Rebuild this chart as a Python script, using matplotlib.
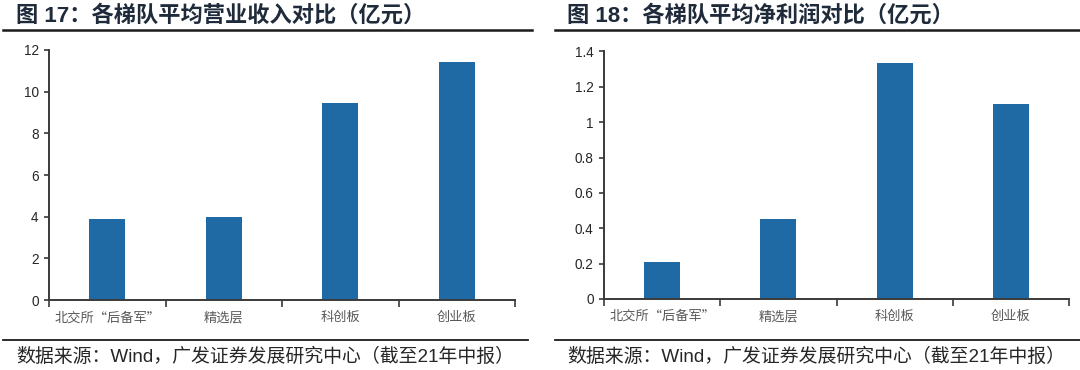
import matplotlib
matplotlib.use('Agg')
import matplotlib.pyplot as plt
from matplotlib.lines import Line2D

plt.rcParams['font.family'] = ['Liberation Sans', 'Noto Sans CJK SC', 'DejaVu Sans']

# 数据
categories = ['北交所“后备军”', '精选层', '科创板', '创业板']
revenue = [3.88, 3.97, 9.46, 11.41]
profit = [0.21, 0.453, 1.332, 1.10]

rev_ticks = [0, 2, 4, 6, 8, 10, 12]
rev_labels = ['0', '2', '4', '6', '8', '10', '12']
pro_ticks = [0, 0.2, 0.4, 0.6, 0.8, 1.0, 1.2, 1.4]
pro_labels = ['0', '0.2', '0.4', '0.6', '0.8', '1', '1.2', '1.4']

title_left = '图 17：各梯队平均营业收入对比（亿元）'
title_right = '图 18：各梯队平均净利润对比（亿元）'
source = '数据来源：Wind，广发证券发展研究中心（截至21年中报）'

bar_color = '#1f69a5'
axis_color = '#3a3a3a'
title_color = '#1f2b3a'

fig = plt.figure(figsize=(10.8, 3.7), dpi=100)


def draw_panel(rect, values, ticks, labels):
    ax = fig.add_axes(rect)
    x = list(range(len(categories)))
    ax.bar(x, values, width=0.31, color=bar_color)
    ax.set_xlim(-0.5, len(categories) - 0.5)
    ax.set_ylim(ticks[0], ticks[-1])
    ax.set_yticks(ticks)
    ax.set_yticklabels(labels, fontsize=9.8, color='#262626')
    ax.set_xticks(x)
    ax.set_xticklabels(categories, fontsize=9.5, color='#595959',
                       family=['Noto Sans CJK SC', 'DejaVu Sans'])
    ax.set_xticks([i - 0.5 for i in range(len(categories) + 1)], minor=True)
    ax.tick_params(axis='x', which='major', length=0, pad=8)
    ax.tick_params(axis='x', which='minor', length=5, width=1.2, color=axis_color)
    ax.tick_params(axis='y', length=3.5, width=1.2, color=axis_color, pad=4)
    for s in ['top', 'right']:
        ax.spines[s].set_visible(False)
    for s in ['left', 'bottom']:
        ax.spines[s].set_color(axis_color)
        ax.spines[s].set_linewidth(1.4)
    return ax


draw_panel([0.0454, 0.189, 0.4315, 0.676], revenue, rev_ticks, rev_labels)
draw_panel([0.5593, 0.192, 0.4306, 0.669], profit, pro_ticks, pro_labels)

# 标题
fig.text(16 / 1080, 1 - 16 / 370, title_left, fontsize=16, fontweight='bold',
         ha='left', va='center', color=title_color)
fig.text(567 / 1080, 1 - 16 / 370, title_right, fontsize=16, fontweight='bold',
         ha='left', va='center', color=title_color)

# 分隔线
fig.add_artist(Line2D([3 / 1080, 532 / 1080], [1 - 30 / 370, 1 - 30 / 370], color='#1a1a1a', lw=1.8))
fig.add_artist(Line2D([555 / 1080, 1.0], [1 - 30 / 370, 1 - 30 / 370], color='#1a1a1a', lw=1.8))
fig.add_artist(Line2D([3 / 1080, 528 / 1080], [1 - 340 / 370, 1 - 340 / 370], color='#1a1a1a', lw=1.3))
fig.add_artist(Line2D([555 / 1080, 1.0], [1 - 340 / 370, 1 - 340 / 370], color='#1a1a1a', lw=1.3))

# 数据来源
fig.text(16 / 1080, 1 - 357 / 370, source, fontsize=13.6, ha='left', va='center', color='#262626')
fig.text(567 / 1080, 1 - 357 / 370, source, fontsize=13.6, ha='left', va='center', color='#262626')

plt.savefig('out.png', dpi=100)
